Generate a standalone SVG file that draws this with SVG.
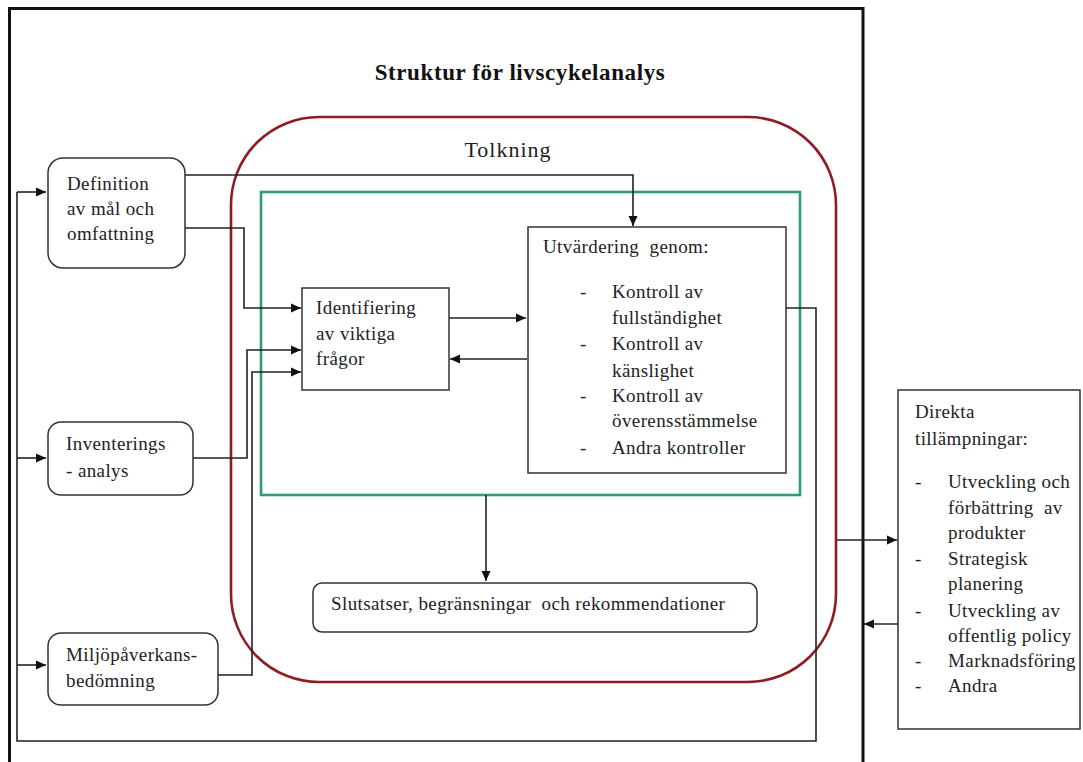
<svg xmlns="http://www.w3.org/2000/svg" width="1083" height="762" viewBox="0 0 1083 762">
  <defs>
    <marker id="arrow" viewBox="0 0 10 10" refX="10" refY="5" markerWidth="10" markerHeight="10" markerUnits="userSpaceOnUse" orient="auto">
      <path d="M0,0.5 L10,5 L0,9.5 z" fill="#111"/>
    </marker>
    <style>
      .t { font-family: "Liberation Serif", "DejaVu Serif", serif; font-size: 19px; letter-spacing: 0.4px; fill: #222; white-space: pre; }
      .title { font-family: "Liberation Serif", "DejaVu Serif", serif; font-size: 23px; letter-spacing: 0.6px; font-weight: bold; fill: #111; }
      .head { font-family: "Liberation Serif", "DejaVu Serif", serif; font-size: 22px; letter-spacing: 1px; fill: #222; }
      .box { fill: #fff; stroke: #333; stroke-width: 1.5; }
      .line { fill: none; stroke: #222; stroke-width: 1.6; }
      .arr { fill: none; stroke: #222; stroke-width: 1.6; marker-end: url(#arrow); }
    </style>
  </defs>

  <rect x="0" y="0" width="1083" height="762" fill="#fff"/>

  <!-- outer frame -->
  <path d="M9.5,775 L9.5,8.5 L863,8.5 L863,775" fill="none" stroke="#111" stroke-width="3"/>

  <text class="title" x="520" y="80" text-anchor="middle">Struktur för livscykelanalys</text>

  <!-- interpretation frame -->
  <g id="tolkning">
    <rect x="231" y="117" width="605" height="565" rx="88" ry="88" fill="none" stroke="#8e1c22" stroke-width="2.6"/>
    <text class="head" x="508" y="157" text-anchor="middle">Tolkning</text>
  </g>
  <g id="tolkning-inner">
    <rect x="261" y="192" width="539" height="303" fill="none" stroke="#2f9e6c" stroke-width="2.6"/>
  </g>

  <!-- connectors -->
  <g id="connectors">
    <!-- feedback loop from Utvärdering back to the phases -->
    <path class="line" d="M786,308 L816,308 L816,741 L17,741 L17,192"/>
    <path class="arr" d="M17,192 L46,192"/>
    <path class="arr" d="M17,458 L46,458"/>
    <path class="arr" d="M17,665 L46,665"/>
    <!-- Definition to Utvärdering -->
    <path class="arr" d="M185,175 L633,175 L633,226"/>
    <!-- Definition to Identifiering -->
    <path class="arr" d="M185,228 L244,228 L244,308 L301,308"/>
    <!-- Inventerings to Identifiering -->
    <path class="arr" d="M193,458 L247,458 L247,350 L301,350"/>
    <!-- Miljö to Identifiering -->
    <path class="arr" d="M218,675 L252,675 L252,372 L301,372"/>
    <!-- Identifiering <-> Utvärdering -->
    <path class="arr" d="M449,318 L526,318"/>
    <path class="arr" d="M527,359 L450,359"/>
    <!-- to conclusions -->
    <path class="arr" d="M486,495 L486,581"/>
    <!-- direct applications -->
    <path class="arr" d="M837,540 L897,540"/>
    <path class="arr" d="M898,624 L864,624"/>
  </g>

  <g id="definition">
    <rect class="box" x="48" y="158" width="137" height="110" rx="15" ry="15"/>
    <text class="t" x="67" y="190">Definition</text>
    <text class="t" x="67" y="215">av mål och</text>
    <text class="t" x="67" y="240">omfattning</text>
  </g>

  <g id="inventering">
    <rect class="box" x="48" y="422" width="145" height="73" rx="13" ry="13"/>
    <text class="t" x="66" y="450">Inventerings</text>
    <text class="t" x="66" y="477">- analys</text>
  </g>

  <g id="miljo">
    <rect class="box" x="48" y="633" width="170" height="72" rx="13" ry="13"/>
    <text class="t" x="66" y="661">Miljöpåverkans-</text>
    <text class="t" x="66" y="687">bedömning</text>
  </g>

  <g id="identifiering">
    <rect class="box" x="302" y="288" width="147" height="102"/>
    <text class="t" x="316" y="314">Identifiering</text>
    <text class="t" x="316" y="340">av viktiga</text>
    <text class="t" x="316" y="365">frågor</text>
  </g>

  <g id="utvardering">
    <rect class="box" x="528" y="227" width="258" height="246"/>
    <text class="t" x="543" y="253">Utvärdering  genom:</text>
    <text class="t" x="580" y="298">-</text>
    <text class="t" x="612" y="298">Kontroll av</text>
    <text class="t" x="612" y="324">fullständighet</text>
    <text class="t" x="580" y="350">-</text>
    <text class="t" x="612" y="350">Kontroll av</text>
    <text class="t" x="612" y="377">känslighet</text>
    <text class="t" x="580" y="402">-</text>
    <text class="t" x="612" y="402">Kontroll av</text>
    <text class="t" x="612" y="427">överensstämmelse</text>
    <text class="t" x="580" y="454">-</text>
    <text class="t" x="612" y="454">Andra kontroller</text>
  </g>

  <g id="slutsatser">
    <rect class="box" x="313" y="583" width="444" height="49" rx="9" ry="9"/>
    <text class="t" x="331" y="610">Slutsatser, begränsningar  och rekommendationer</text>
  </g>

  <g id="direkta">
    <rect class="box" x="898" y="390" width="182" height="339"/>
    <text class="t" x="915" y="418">Direkta</text>
    <text class="t" x="915" y="445">tillämpningar:</text>
    <text class="t" x="915" y="488">-</text>
    <text class="t" x="948" y="488">Utveckling och</text>
    <text class="t" x="948" y="514">förbättring  av</text>
    <text class="t" x="948" y="539">produkter</text>
    <text class="t" x="915" y="565">-</text>
    <text class="t" x="948" y="565">Strategisk</text>
    <text class="t" x="948" y="590">planering</text>
    <text class="t" x="915" y="617">-</text>
    <text class="t" x="948" y="617">Utveckling av</text>
    <text class="t" x="948" y="642">offentlig policy</text>
    <text class="t" x="915" y="667">-</text>
    <text class="t" x="948" y="667">Marknadsföring</text>
    <text class="t" x="915" y="692">-</text>
    <text class="t" x="948" y="692">Andra</text>
  </g>
</svg>
